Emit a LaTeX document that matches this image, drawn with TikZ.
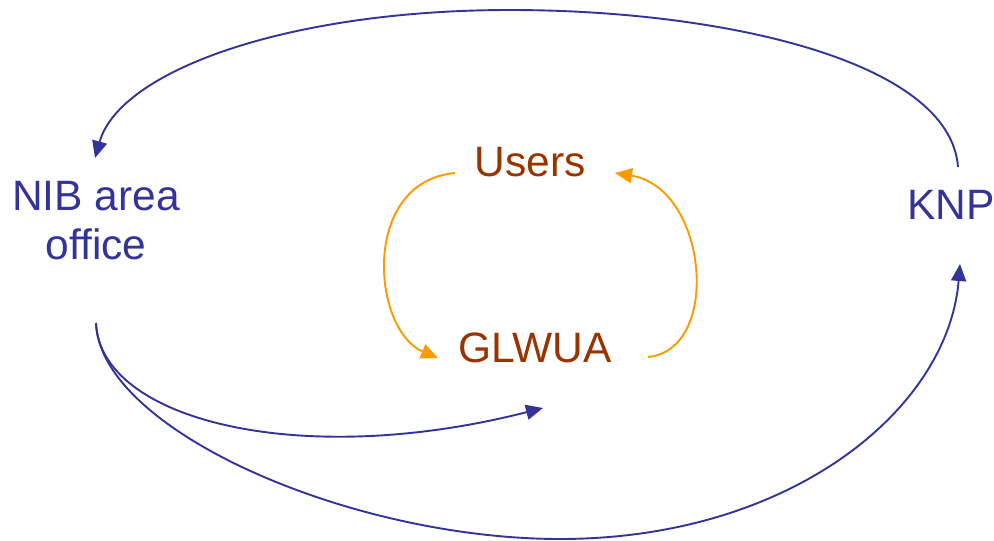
\documentclass[tikz,border=0pt]{standalone}
\usepackage{fontspec}
\setmainfont{Liberation Sans}
\usetikzlibrary{arrows.meta}
\definecolor{flowblue}{HTML}{333399}
\definecolor{flowbrown}{HTML}{993300}
\definecolor{floworange}{HTML}{FF9900}
\tikzset{
  lbl/.style={font=\fontsize{42.5}{50}\selectfont, inner sep=0pt, align=center},
  bluelbl/.style={lbl, text=flowblue},
  brownlbl/.style={lbl, text=flowbrown},
  link/.style={line width=1.9pt, -{Triangle[length=17pt, width=15pt]}},
  bluelink/.style={link, draw=flowblue},
  orangelink/.style={link, draw=floworange},
}
\begin{document}
\begin{tikzpicture}[x=1pt, y=-1pt]
  \useasboundingbox (0,0) rectangle (994,541);
  % labels
  \node[bluelbl] (nib) at (96,221) {NIB area\\[-1pt]office};
  \node[bluelbl] (knp) at (951,205) {KNP};
  \node[brownlbl] (users) at (530,162) {Users};
  \node[brownlbl] (glwua) at (535,348) {GLWUA};
  % connector ends
  \coordinate (knpTop) at (958,167);
  \coordinate (knpBot) at (960,264);
  \coordinate (nibTop) at (95,158);
  \coordinate (nibBot) at (96,323);
  \coordinate (usersW) at (455,173);
  \coordinate (usersE) at (615,173);
  \coordinate (glwuaW) at (438,358);
  \coordinate (glwuaE) at (648,357);
  \coordinate (glwuaS) at (543,408);
  % outer loop
  \draw[bluelink] (knpTop) .. controls (950,60) and (720,10) .. (510,10)
                  .. controls (290,10) and (120,70) .. (nibTop);
  \draw[bluelink] (nibBot) .. controls (100,430) and (350,539) .. (560,539)
                  .. controls (790,539) and (948,410) .. (knpBot);
  \draw[bluelink] (nibBot) .. controls (100,420) and (300,470) .. (glwuaS);
  % inner loop
  \draw[orangelink] (usersW) .. controls (360,182) and (372,330) .. (glwuaW);
  \draw[orangelink] (glwuaE) .. controls (722,350) and (708,188) .. (usersE);
\end{tikzpicture}
\end{document}
